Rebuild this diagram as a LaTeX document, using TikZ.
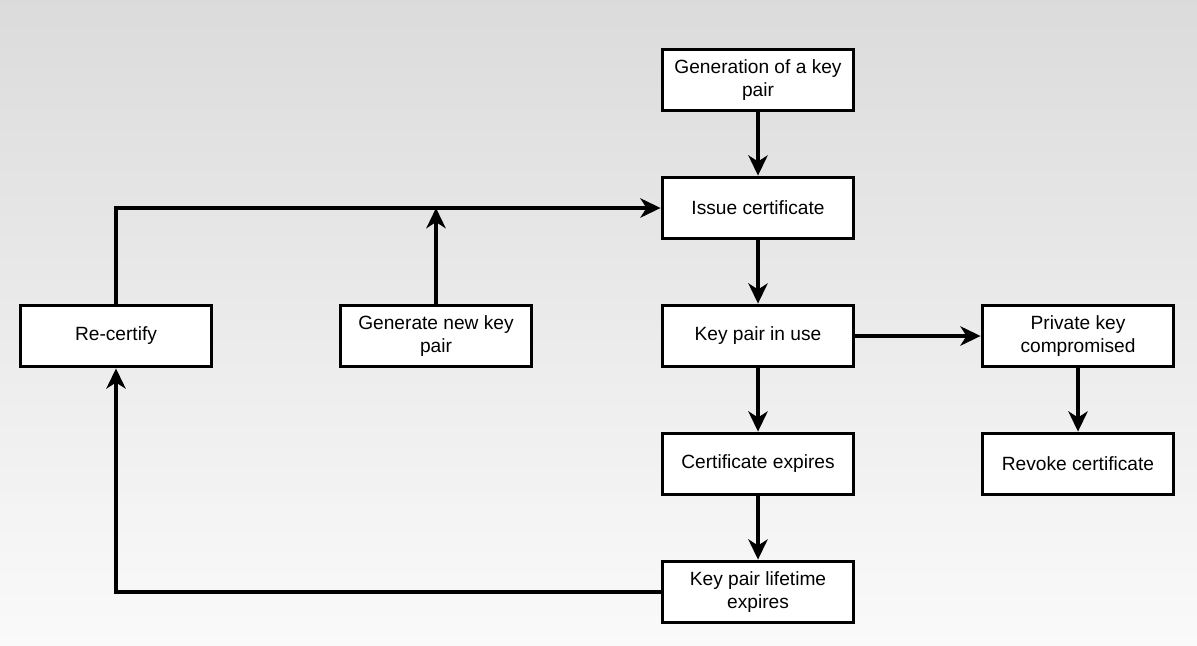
\documentclass[tikz,border=0pt]{standalone}
\usepackage{fontspec}
\setmainfont{Liberation Sans}
\usetikzlibrary{arrows.meta}

\begin{document}
\begin{tikzpicture}[
		box/.style={draw, fill=white, line width=2.2pt, minimum width=3.82cm, minimum height=1.22cm,
			align=center, font=\fontsize{10.9}{13.6}\selectfont},
		link/.style={line width=1.9pt, -{Stealth[length=11.5pt, width=11pt, inset=3.5pt]}}
	]
		\shade[top color=black!14, bottom color=black!2] (0, 0) rectangle (23.94, -12.9);
		\useasboundingbox (0, 0) rectangle (23.94, -12.9);
		\node [box] (gen) at (15.16, -1.6) {Generation of a key\\pair};
		\node [box] (issue) at (15.16, -4.16) {Issue certificate};
		\node [box] (inuse) at (15.16, -6.72) {Key pair in use};
		\node [box] (expires) at (15.16, -9.28) {Certificate expires};
		\node [box] (lifetime) at (15.16, -11.84) {Key pair lifetime\\expires};
		\node [box] (compromised) at (21.56, -6.72) {Private key\\compromised};
		\node [box] (revoke) at (21.56, -9.28) {Revoke certificate};
		\node [box] (recertify) at (2.32, -6.72) {Re-certify};
		\node [box] (newpair) at (8.72, -6.72) {Generate new key\\pair};
		\coordinate (join) at (newpair.north |- issue.west);
		\draw [link] (gen) -- (issue);
		\draw [link] (issue) -- (inuse);
		\draw [link] (inuse) -- (expires);
		\draw [link] (expires) -- (lifetime);
		\draw [link] (inuse) -- (compromised);
		\draw [link] (compromised) -- (revoke);
		\draw [link] (lifetime.west) -| (recertify.south);
		\draw [link] (recertify.north) |- (issue.west);
		\draw [link] (newpair.north) -- (join);
	\end{tikzpicture}
\end{document}
